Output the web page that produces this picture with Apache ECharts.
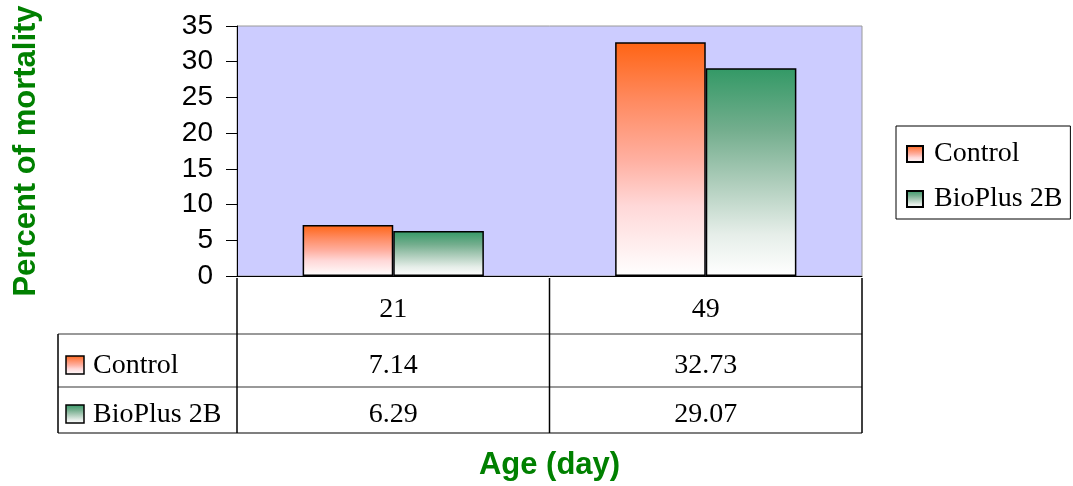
<!DOCTYPE html>
<html>
<head>
<meta charset="utf-8">
<script src="https://cdn.jsdelivr.net/npm/echarts@6/dist/echarts.min.js"></script>
<style>
html,body{margin:0;padding:0;background:#fff;}
#chart{width:1073px;height:486px;}
</style>
</head>
<body>
<div id="chart"></div>
<script>
// ---- data ----
const categories = ['21', '49'];
const seriesNames = ['Control', 'BioPlus 2B'];
const controlValues = [7.14, 32.73];
const bioplusValues = [6.29, 29.07];
const yMin = 0, yMax = 35, yInterval = 5;
const xAxisTitle = 'Age (day)';
const yAxisTitle = 'Percent of mortality';

// ---- styles ----
const SERIF = '"Liberation Serif","Times New Roman",serif';
const SANS = '"Liberation Sans",Arial,sans-serif';
const G = {left: 237, top: 26, width: 625, height: 252};
const controlFill = new echarts.graphic.LinearGradient(0, 0, 0, 1, [
  {offset: 0, color: '#FF6414'},
  {offset: 0.25, color: '#FF8A60'},
  {offset: 0.5, color: '#FFAFA0'},
  {offset: 0.7, color: '#FFD8D8'},
  {offset: 1, color: '#FFFFFF'}
]);
const bioFill = new echarts.graphic.LinearGradient(0, 0, 0, 1, [
  {offset: 0, color: '#339966'},
  {offset: 0.3, color: '#74AE8E'},
  {offset: 0.55, color: '#AECDBB'},
  {offset: 0.8, color: '#E6EEE9'},
  {offset: 1, color: '#FFFFFF'}
]);
const fills = [controlFill, bioFill];
const seriesData = [controlValues, bioplusValues];

const chart = echarts.init(document.getElementById('chart'), null, {renderer: 'canvas'});

const option = {
  animation: false,
  backgroundColor: '#ffffff',
  grid: {
    left: G.left, top: G.top, width: G.width, height: G.height,
    show: true, backgroundColor: '#CCCCFF', borderColor: '#9A9A9A', borderWidth: 1
  },
  legend: {
    orient: 'vertical',
    left: 896, top: 126,
    padding: [14, 8, 6, 10],
    itemGap: 17,
    itemWidth: 16, itemHeight: 16,
    borderColor: '#000', borderWidth: 1,
    icon: 'rect',
    data: seriesNames,
    textStyle: {fontFamily: SERIF, fontSize: 28, color: '#000', padding: [0, 0, 0, 6]}
  },
  xAxis: {
    type: 'category',
    data: categories,
    axisLine: {lineStyle: {color: '#000', width: 1}},
    axisTick: {show: false},
    axisLabel: {show: false},
    splitLine: {show: false},
    name: xAxisTitle,
    nameLocation: 'middle',
    nameGap: 174,
    nameTextStyle: {fontFamily: SANS, fontWeight: 'bold', fontSize: 31, color: '#008000'}
  },
  yAxis: {
    type: 'value',
    min: yMin, max: yMax, interval: yInterval,
    axisLine: {show: true, lineStyle: {color: '#000', width: 1}},
    axisTick: {show: true, length: 11, inside: false, lineStyle: {color: '#000'}},
    axisLabel: {fontFamily: SANS, fontSize: 28, color: '#000', margin: 24},
    splitLine: {show: false},
    name: yAxisTitle,
    nameLocation: 'middle',
    nameRotate: 90,
    nameGap: 195,
    nameTextStyle: {fontFamily: SANS, fontWeight: 'bold', fontSize: 31, color: '#008000'}
  },
  series: seriesNames.map((n, i) => ({
    name: n,
    type: 'bar',
    data: seriesData[i],
    barGap: '0%',
    barCategoryGap: '42%',
    itemStyle: {color: fills[i], borderColor: '#000', borderWidth: 1.5}
  }))
};
chart.setOption(option);

// ---- data table below the plot ----
function buildTable() {
  const els = [];
  const n = categories.length;
  const bottom = G.top + G.height;
  const rowLines = [bottom + 56, bottom + 109, bottom + 155];
  const labelLeft = 58;
  const right = G.left + G.width;
  const textY = [bottom + 32, bottom + 88, bottom + 137];
  // horizontal lines
  rowLines.forEach((y, k) => {
    els.push({type: 'line', shape: {x1: labelLeft, y1: y, x2: right, y2: y},
      style: {stroke: k === 2 ? '#555' : '#777', lineWidth: 1.5}, z: 10});
  });
  // vertical lines
  els.push({type: 'line', shape: {x1: labelLeft, y1: rowLines[0], x2: labelLeft, y2: rowLines[2]},
    style: {stroke: '#000', lineWidth: 1.5}, z: 10});
  for (let i = 0; i <= n; i++) {
    const x = G.left + i * G.width / n;
    els.push({type: 'line', shape: {x1: x, y1: bottom, x2: x, y2: rowLines[2]},
      style: {stroke: '#000', lineWidth: 1.5}, z: 10});
  }
  // category row + values
  categories.forEach((c, i) => {
    const cx = chart.convertToPixel({xAxisIndex: 0}, c);
    els.push({type: 'text', x: cx, y: textY[0], z: 11,
      style: {text: c, font: '28px ' + SERIF, fill: '#000', align: 'center', verticalAlign: 'middle'}});
    seriesData.forEach((arr, s) => {
      els.push({type: 'text', x: cx, y: textY[s + 1], z: 11,
        style: {text: arr[i].toFixed(2), font: '28px ' + SERIF, fill: '#000', align: 'center', verticalAlign: 'middle'}});
    });
  });
  // row labels with key
  seriesNames.forEach((name, s) => {
    const y = textY[s + 1];
    els.push({type: 'rect', shape: {x: 66, y: y - 10, width: 18, height: 18}, z: 11,
      style: {fill: fills[s], stroke: '#000', lineWidth: 1.5}});
    els.push({type: 'text', x: 93, y: y, z: 11,
      style: {text: name, font: '28px ' + SERIF, fill: '#000', align: 'left', verticalAlign: 'middle'}});
  });
  chart.setOption({graphic: els});
}
buildTable();
</script>
</body>
</html>
